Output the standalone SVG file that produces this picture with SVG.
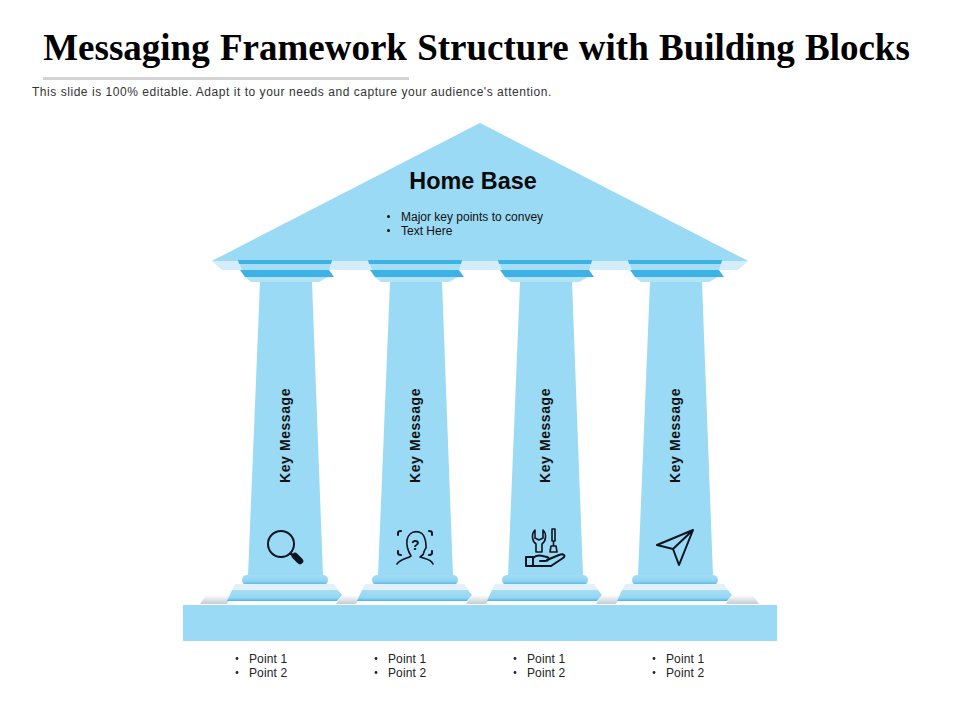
<svg xmlns="http://www.w3.org/2000/svg" width="960" height="720" viewBox="0 0 960 720">
<style>
text{font-family:"Liberation Sans",Arial,sans-serif;fill:#111}
.pt{font-size:12px;fill:#222;letter-spacing:.12px}
.km{font-size:14px;font-weight:700;letter-spacing:.58px}
.ic{fill:none;stroke:#0b1420;stroke-width:2;stroke-linecap:round;stroke-linejoin:round}
.thin{stroke-width:1.6}
</style>
<defs>
<linearGradient id="shade" x1="0" y1="0" x2="0" y2="1"><stop offset="0" stop-color="#ffffff"/><stop offset="1" stop-color="#c3cbd6"/></linearGradient>
<linearGradient id="torus" x1="0" y1="0" x2="0" y2="1"><stop offset="0" stop-color="#a4dcf3"/><stop offset=".6" stop-color="#8fd5f2"/><stop offset="1" stop-color="#4fb6e6"/></linearGradient>
<linearGradient id="plinth" x1="0" y1="0" x2="0" y2="1"><stop offset="0" stop-color="#a6def5"/><stop offset=".7" stop-color="#95d7f2"/><stop offset="1" stop-color="#4fb4e4"/></linearGradient>
<g id="pillar">
<path d="M260 282H312L323 576H248Z" fill="#9adaf4"/>
<path d="M238 260H332L329 270H242Z" fill="#a6def5"/>
<path d="M238 260H332L331 264H239Z" fill="#3db2e6"/>
<path d="M240 270H329L334 277H245Z" fill="#3db2e6"/>
<path d="M245 277H328L319 282H251Z" fill="#b3e3f7"/>
<rect x="242" y="575" width="86" height="10" rx="5" fill="url(#torus)"/>
<path d="M232 590H338L342 595L337 601H227Z" fill="url(#plinth)"/>
<path d="M235 584H334L338 590H232Z" fill="#e2f1f9"/>
</g>
</defs>
<rect width="960" height="720" fill="#fff"/>
<g id="header">
<text x="476.500" y="60" text-anchor="middle" style="font-family:'Liberation Serif',serif;font-size:37px;font-weight:700;fill:#000;word-spacing:1px">Messaging Framework Structure with Building Blocks</text>
<rect x="43" y="77" width="366" height="3" fill="#d4d4d4"/>
<text x="32" y="95.500" style="font-size:12px;letter-spacing:.54px;fill:#333">This slide is 100% editable. Adapt it to your needs and capture your audience's attention.</text>
</g>
<g id="shadows">
<path d="M206 595H232L227 604H200Z" fill="url(#shade)"/>
<path d="M342 595H361L356 604H336Z" fill="url(#shade)"/>
<path d="M472 595H491L486 604H466Z" fill="url(#shade)"/>
<path d="M602 595H621L616 604H596Z" fill="url(#shade)"/>
<path d="M732 595H753L759 604H726Z" fill="url(#shade)"/>
</g>
<g id="roof">
<path d="M212 261L480 123L748 261L738 270H222Z" fill="#d3edfa"/>
<path d="M212 261L480 123L748 261Z" fill="#9adaf4"/>
<text x="473" y="189" text-anchor="middle" style="font-size:23.400px;font-weight:700;fill:#0a0a0a">Home Base</text>
<text x="401" y="221" style="font-size:12px">Major key points to convey</text>
<text x="401" y="235" style="font-size:12px">Text Here</text>
<circle cx="388.500" cy="216.500" r="1.500" fill="#111"/>
<circle cx="388.500" cy="230.500" r="1.500" fill="#111"/>
</g>
<g id="pillar-1">
<use href="#pillar"/>
<text class="km" transform="translate(290 483) rotate(-90)">Key Message</text>
<circle class="ic" cx="281" cy="544" r="13"/>
<path d="M290 553L296 558" stroke="#0b1420" stroke-width="2.500"/>
<path d="M295 556L300 561" stroke="#0b1420" stroke-width="6.500" stroke-linecap="round"/>
</g>
<g id="pillar-2">
<use href="#pillar" x="130"/>
<text class="km" transform="translate(420 483) rotate(-90)">Key Message</text>
<path class="ic" d="M398 535V533Q398 531 401 531M429 531Q432 531 432 533V535M432 551V553Q432 555 429 555M398 551V553Q398 555 401 555"/>
<path class="ic thin" d="M397 564C400 559 407 559 411 556C408 551 406 547 407 540C409 529 423 529 425 539C426 542 426 544 426 546C427 549 424 549 424 552C424 555 421 556 420 557C425 559 431 559 433 564"/>
<text x="411" y="550" style="font-size:14px;font-weight:700;fill:#0b1420">?</text>
</g>
<g id="pillar-3">
<use href="#pillar" x="260"/>
<text class="km" transform="translate(550 483) rotate(-90)">Key Message</text>
<path class="ic thin" d="M535 530C531 534 532 541 536 544V552H542V544C546 541 547 534 543 530V538L539 540L535 538Z"/>
<path class="ic thin" d="M552 529H555V541H552ZM553.500 541V546M550 552L551 546H556L557 552Z"/>
<path class="ic" d="M526 557H533V566H526ZM533 558C538 554 542 556 547 557C550 558 549 561 545 561H540M547 560L559 555C564 553 566 556 563 558L551 566H533"/>
</g>
<g id="pillar-4">
<use href="#pillar" x="390"/>
<text class="km" transform="translate(680 483) rotate(-90)">Key Message</text>
<path class="ic" d="M693 530L657 545L673 549L679 565ZM693 530L673 549"/>
</g>
<g id="base">
<rect x="183" y="605" width="594" height="36" fill="#9adaf4"/>
</g>
<g id="points">
<text class="pt" x="249" y="663">Point 1</text><text class="pt" x="249" y="677">Point 2</text>
<text class="pt" x="388" y="663">Point 1</text><text class="pt" x="388" y="677">Point 2</text>
<text class="pt" x="527" y="663">Point 1</text><text class="pt" x="527" y="677">Point 2</text>
<text class="pt" x="666" y="663">Point 1</text><text class="pt" x="666" y="677">Point 2</text>
<g fill="#222">
<circle cx="237" cy="658.500" r="1.400"/><circle cx="237" cy="672.500" r="1.400"/>
<circle cx="376" cy="658.500" r="1.400"/><circle cx="376" cy="672.500" r="1.400"/>
<circle cx="515" cy="658.500" r="1.400"/><circle cx="515" cy="672.500" r="1.400"/>
<circle cx="654" cy="658.500" r="1.400"/><circle cx="654" cy="672.500" r="1.400"/>
</g>
</g>
</svg>
